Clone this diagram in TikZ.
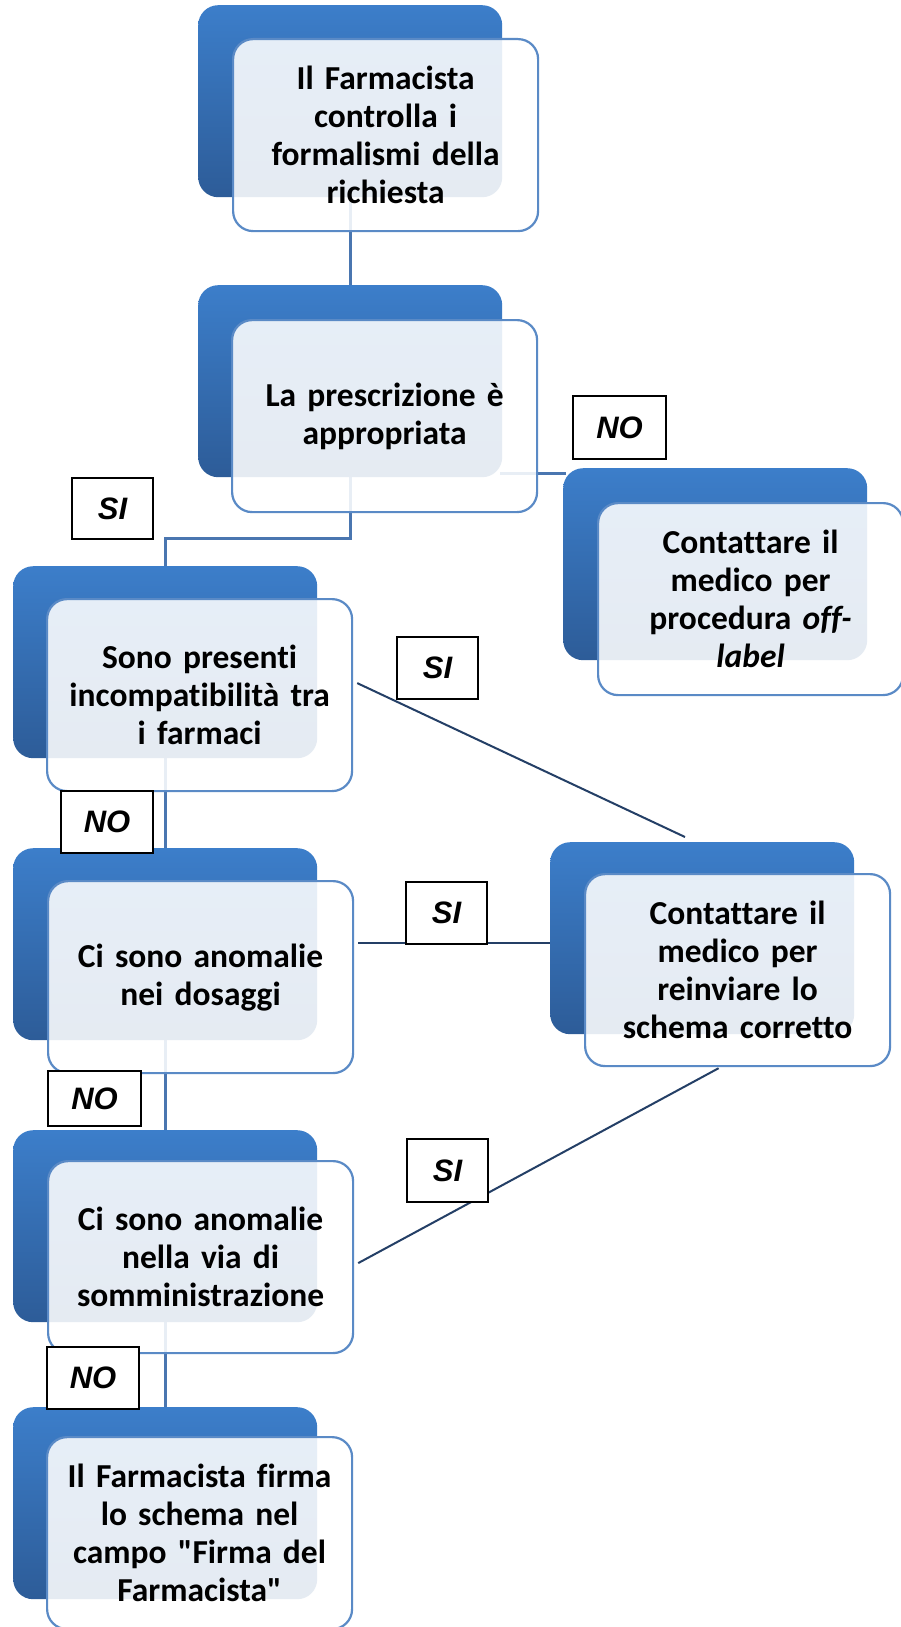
\documentclass[tikz,border=0pt]{standalone}
\usepackage{fontspec}
\setmainfont{Carlito}[Ligatures={NoCommon}]
\newfontfamily\arialfont{Liberation Sans}
\usetikzlibrary{calc}
\newcommand{\strq}{\XeTeXglyph\XeTeXcharglyph"22\relax}
\definecolor{blueTop}{RGB}{60,126,202}
\definecolor{blueBot}{RGB}{45,92,152}
\definecolor{frontBorder}{RGB}{90,138,198}
\definecolor{connBlue}{RGB}{74,118,176}
\definecolor{navyLine}{RGB}{36,63,102}
\tikzset{
  backbox/.style={rectangle, rounded corners=20pt, minimum width=304pt, minimum height=192pt,
    anchor=north west, top color=blueTop, bottom color=blueBot, draw=none, inner sep=0pt},
  frontbox/.style={rectangle, rounded corners=20pt, minimum width=305pt, minimum height=192pt,
    anchor=north west, draw=frontBorder, line width=2.2pt, fill=white, fill opacity=0.88,
    text opacity=1, inner sep=4pt, text width=296pt, align=center,
    font=\bfseries\fontsize{33.5}{38}\selectfont},
  lblbox/.style={rectangle, draw=black, line width=2pt, fill=white, anchor=north west,
    inner sep=0pt, font=\arialfont\bfseries\itshape\fontsize{31}{34}\selectfont},
  connA/.style={draw=connBlue, line width=3pt},
  connB/.style={draw=navyLine, line width=2pt},
}
\begin{document}
\begin{tikzpicture}[x=1pt,y=-1pt]
\useasboundingbox (0,0) rectangle (900,1627);
\fill[white] (0,0) rectangle (900,1627);

% connector end points on the back boxes
\coordinate (B1s) at (350,197);
\coordinate (B2n) at (350,285);
\coordinate (B2s) at (350,477);
\coordinate (B3n) at (165,566);
\coordinate (B3s) at (165,758);
\coordinate (B4n) at (165,848);
\coordinate (B4s) at (165,1040);
\coordinate (B5n) at (165,1130);
\coordinate (B5s) at (165,1322);
\coordinate (B6n) at (165,1407);
\coordinate (B2e) at (500,473);
\coordinate (R1w) at (566,473);

\draw[connA] (B1s) -- (B2n);
\draw[connA] (B2s) -- (350,538) -- (165,538) -- (B3n);
\draw[connA] (B3s) -- (B4n);
\draw[connA] (B4s) -- (B5n);
\draw[connA] (B5s) -- (B6n);
\draw[connA] (B2e) -- (R1w);

% back boxes
\node[backbox] (B1) at (198,5) {};
\node[backbox] (B2) at (198,285) {};
\node[backbox] (R1) at (563,468) {};
\node[backbox] (B3) at (13,566) {};
\node[backbox] (B4) at (13,848) {};
\node[backbox] (R2) at (550,842) {};
\node[backbox] (B5) at (13,1130) {};
\node[backbox] (B6) at (13,1407) {};

% front boxes
\node[frontbox] (F1) at (232,38) {Il Farmacista\\controlla i\\formalismi della\\richiesta};
\node[frontbox] (F2) at (231,319) {La prescrizione è\\appropriata};
\node[frontbox] (FR1) at (597,502) {Contattare il\\medico per\\procedura \textit{off-}\\\textit{label}};
\node[frontbox] (F3) at (46,598) {Sono presenti\\incompatibilità tra\\i farmaci};
\node[frontbox] (F4) at (47,880) {Ci sono anomalie\\nei dosaggi};
\node[frontbox] (FR2) at (584,873) {Contattare il\\medico per\\reinviare lo\\schema corretto};
\node[frontbox] (F5) at (47,1160) {Ci sono anomalie\\nella via di\\somministrazione};
\node[frontbox] (F6) at (46,1436) {Il Farmacista firma\\lo schema nel\\campo \strq Firma del\\Farmacista\strq};

% navy SI connectors
\coordinate (s2a) at ($(F3.east)+(4,-12)$);
\coordinate (s2b) at (685,837);
\coordinate (s3a) at ($(F4.east)+(4,-34)$);
\coordinate (s3b) at (R2.west |- s3a);
\coordinate (s4a) at ($(F5.east)+(4,6)$);
\coordinate (s4b) at ($(FR2.south)+(-19,1)$);
\draw[connB] (s2a) -- (s2b);
\draw[connB] (s3a) -- (s3b);
\draw[connB] (s4a) -- (s4b);

% labels
\node[lblbox, minimum width=93pt, minimum height=63pt] (L1) at (572,395) {\raisebox{-8pt}{NO}};
\node[lblbox, minimum width=81pt, minimum height=61pt] (L2) at (71,477) {\raisebox{-8pt}{SI}};
\node[lblbox, minimum width=81pt, minimum height=62pt] (L3) at (396,636) {\raisebox{-8pt}{SI}};
\node[lblbox, minimum width=92pt, minimum height=62pt] (L4) at (60,790) {\raisebox{-8pt}{NO}};
\node[lblbox, minimum width=81pt, minimum height=62pt] (L5) at (405,881) {\raisebox{-8pt}{SI}};
\node[lblbox, minimum width=93pt, minimum height=55pt] (L6) at (47,1070) {\raisebox{-8pt}{NO}};
\node[lblbox, minimum width=81pt, minimum height=63pt] (L7) at (406,1138) {\raisebox{-8pt}{SI}};
\node[lblbox, minimum width=92pt, minimum height=62pt] (L8) at (46,1346) {\raisebox{-8pt}{NO}};
\end{tikzpicture}
\end{document}
